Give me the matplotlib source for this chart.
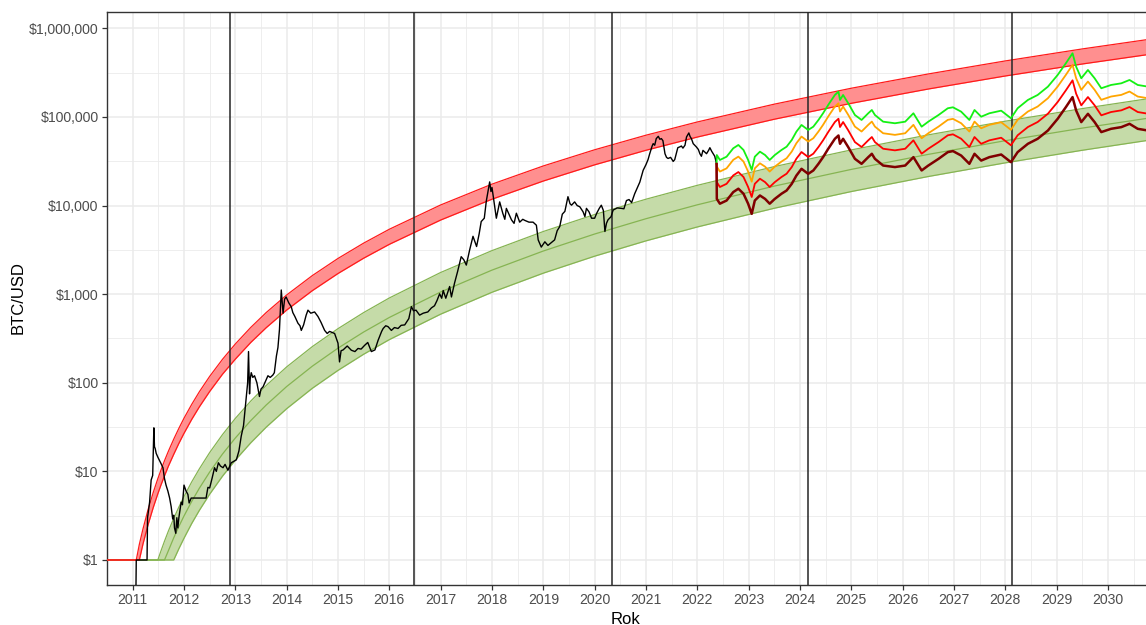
import matplotlib
matplotlib.use("Agg")
import matplotlib.pyplot as plt
from matplotlib.ticker import FixedLocator, FixedFormatter, NullFormatter

plt.rcParams["font.family"] = ["Liberation Sans", "DejaVu Sans"]

# ---- data ----
halving_years = [2012.89, 2016.49, 2020.33, 2024.16, 2028.13]

band_years = [2010.5, 2011.07, 2011.13, 2011.2, 2011.3, 2011.4, 2011.49, 2011.55, 2011.62,
              2011.7, 2011.8, 2011.9, 2012.0, 2012.15, 2012.3, 2012.5, 2012.75, 2013.0,
              2013.3, 2013.6, 2014.0, 2014.5, 2015.0, 2015.5, 2016.0, 2017.0, 2018.0,
              2019.0, 2020.0, 2021.0, 2022.0, 2023.5, 2025.0, 2026.5, 2028.0, 2029.5, 2031.0]
red_upper = [1, 1, 1.50, 2.23, 3.70, 5.77, 8.27, 10.3, 13.2, 17.1, 23.1, 30.6, 39.8, 57.0,
             79.3, 118, 184, 274, 421, 619, 979, 1621, 2530, 3769, 5404, 10160, 17450, 28000,
             42630, 62260, 87800, 139500, 211000, 305800, 429000, 586000, 781000]
red_lower = [1, 1, 1, 1.51, 2.50, 3.90, 5.59, 6.99, 8.91, 11.6, 15.6, 20.7, 26.9, 38.6, 53.6,
             79.8, 125, 185, 285, 418, 662, 1096, 1711, 2548, 3653, 6868, 11800, 18930, 28830,
             42090, 59350, 94300, 142600, 206800, 290100, 396200, 528000]
green_upper = [1, 1, 1, 1, 1, 1, 1, 1.26, 1.63, 2.15, 2.95, 3.96, 5.21, 7.60, 10.7, 16.3, 26.0,
               39.6, 62.1, 93.0, 151, 256, 408, 620, 906, 1757, 3102, 5096, 7925, 11800, 16920,
               27530, 42490, 62800, 89600, 124300, 168000]
green_mid = [1, 1, 1, 1, 1, 1, 1, 1, 1, 1.29, 1.78, 2.39, 3.14, 4.58, 6.47, 9.83, 15.7, 23.8,
             37.4, 56.0, 90.7, 154, 246, 374, 546, 1059, 1869, 3070, 4775, 7107, 10200, 16590,
             25600, 37830, 53980, 74860, 101200]
green_lower = [1, 1, 1, 1, 1, 1, 1, 1, 1, 1, 1, 1.34, 1.76, 2.58, 3.64, 5.53, 8.83, 13.4, 21.0,
               31.5, 51.0, 86.7, 138, 210, 307, 595, 1051, 1727, 2685, 3997, 5735, 9327, 14400,
               21280, 30350, 42100, 56930]

price_years = [2011.06, 2011.07, 2011.28, 2011.29, 2011.33, 2011.36, 2011.39, 2011.413, 2011.425,
               2011.44, 2011.458, 2011.49, 2011.52, 2011.56, 2011.59, 2011.62, 2011.65, 2011.686,
               2011.72, 2011.75, 2011.78, 2011.80, 2011.815, 2011.84, 2011.86, 2011.88, 2011.90,
               2011.945, 2011.97, 2012.00, 2012.04, 2012.076, 2012.10, 2012.14, 2012.17, 2012.43,
               2012.466, 2012.50, 2012.55, 2012.595, 2012.63, 2012.67, 2012.71, 2012.76, 2012.80,
               2012.856, 2012.92, 2013.02, 2013.07, 2013.115, 2013.16, 2013.21, 2013.24, 2013.257,
               2013.277, 2013.29, 2013.31, 2013.34, 2013.374, 2013.42, 2013.47, 2013.50, 2013.54,
               2013.59, 2013.635, 2013.68, 2013.73, 2013.76, 2013.80, 2013.83, 2013.86, 2013.895,
               2013.93, 2013.96, 2013.99, 2014.04, 2014.09, 2014.12, 2014.16, 2014.22, 2014.26,
               2014.285, 2014.33, 2014.38, 2014.415, 2014.47, 2014.544, 2014.61, 2014.67, 2014.74,
               2014.79, 2014.836, 2014.934, 2015.00, 2015.03, 2015.06, 2015.10, 2015.18, 2015.26,
               2015.33, 2015.39, 2015.45, 2015.52, 2015.58, 2015.65, 2015.72, 2015.78, 2015.85,
               2015.88, 2015.93, 2015.975, 2016.04, 2016.10, 2016.17, 2016.23, 2016.30, 2016.38,
               2016.43, 2016.47, 2016.52, 2016.59, 2016.66, 2016.75, 2016.82, 2016.88, 2016.93,
               2016.98, 2017.02, 2017.05, 2017.10, 2017.175, 2017.21, 2017.27, 2017.33, 2017.40,
               2017.45, 2017.50, 2017.565, 2017.63, 2017.70, 2017.75, 2017.79, 2017.85, 2017.89,
               2017.955, 2017.98, 2018.00, 2018.04, 2018.085, 2018.15, 2018.21, 2018.25, 2018.28,
               2018.33, 2018.38, 2018.43, 2018.475, 2018.54, 2018.60, 2018.64, 2018.72, 2018.80,
               2018.865, 2018.90, 2018.96, 2019.03, 2019.09, 2019.15, 2019.22, 2019.27, 2019.32,
               2019.37, 2019.42, 2019.48, 2019.52, 2019.55, 2019.61, 2019.66, 2019.71, 2019.775,
               2019.81, 2019.84, 2019.89, 2019.94, 2020.00, 2020.04, 2020.09, 2020.13, 2020.17,
               2020.20, 2020.23, 2020.26, 2020.32, 2020.36, 2020.44, 2020.52, 2020.57, 2020.62,
               2020.67, 2020.72, 2020.78, 2020.88, 2020.945, 2021.00, 2021.04, 2021.07, 2021.12,
               2021.14, 2021.17, 2021.20, 2021.24, 2021.27, 2021.30, 2021.33, 2021.37, 2021.40,
               2021.43, 2021.48, 2021.53, 2021.56, 2021.59, 2021.62, 2021.66, 2021.69, 2021.72,
               2021.76, 2021.79, 2021.835, 2021.86, 2021.885, 2021.92, 2021.98, 2022.02, 2022.05,
               2022.08, 2022.11, 2022.15, 2022.18, 2022.22, 2022.245, 2022.28, 2022.31, 2022.34,
               2022.375]
price_usd = [0.3, 1.0, 1.0, 3.0, 4.5, 8.0, 9.0, 31, 19,
             18, 16, 14.5, 13.4, 12, 11, 8.3, 7.0, 6.0,
             5.0, 4.0, 2.9, 3.2, 2.3, 2.0, 3.0, 2.3, 3.0,
             4.5, 4.2, 7.0, 6.0, 5.5, 4.4, 5.0, 5.0, 5.0,
             6.6, 6.5, 8.5, 11, 10, 12.5, 11.5, 11, 12,
             10.3, 12.5, 13.5, 17, 25, 33, 65, 100, 225,
             75, 110, 130, 115, 120, 100, 70, 85, 90,
             105, 120, 115, 122, 130, 200, 250, 400, 1115,
             610, 880, 930, 800, 720, 620, 560, 470, 440,
             390, 450, 580, 660, 610, 630, 560, 480, 390,
             360, 380, 360, 280, 172, 230, 235, 260, 233,
             225, 244, 240, 265, 285, 225, 235, 300, 380,
             410, 440, 430, 390, 420, 410, 445, 450, 530,
             723, 650, 660, 580, 610, 630, 700, 740, 850,
             1010, 900, 1100, 900, 1220, 930, 1330, 1800, 2650,
             2450, 2130, 3160, 4500, 3450, 4800, 6600, 7200, 11300,
             18500, 14400, 16000, 11000, 7200, 11000, 8200, 7000, 9300,
             8000, 6900, 6300, 8200, 6500, 7000, 6800, 6500, 6500,
             6000, 4100, 3400, 3900, 3550, 3800, 4100, 5200, 5800,
             8000, 8600, 12600, 10500, 10100, 11000, 10000, 9700, 8500,
             7500, 9300, 8500, 7200, 7200, 8200, 9300, 10100, 8800,
             5100, 6300, 6900, 7500, 8900, 9400, 9300, 9200, 11400,
             11700, 10800, 13600, 18400, 25000, 29000, 33000, 38000, 47000,
             50000, 48000, 57000, 60500, 56000, 57000, 54000, 38500, 35000,
             34000, 35000, 31500, 33000, 38500, 45000, 46000, 47000, 44500,
             48000, 59500, 66000, 60000, 57000, 50000, 46000, 43000, 38500,
             36000, 42000, 40000, 38500, 42000, 45000, 41000, 38500, 36000,
             29500]

proj_years = [2022.375, 2022.38, 2022.44, 2022.57, 2022.70, 2022.80, 2022.90, 2022.99, 2023.06,
              2023.12, 2023.22, 2023.32, 2023.41, 2023.51, 2023.64, 2023.74, 2023.84, 2023.93,
              2024.03, 2024.16, 2024.26, 2024.36, 2024.45, 2024.55, 2024.68, 2024.75, 2024.78,
              2024.84, 2024.94, 2025.07, 2025.20, 2025.33, 2025.40, 2025.46, 2025.62, 2025.85,
              2026.05, 2026.21, 2026.37, 2026.50, 2026.70, 2026.88, 2026.98, 2027.14, 2027.30,
              2027.40, 2027.53, 2027.69, 2027.92, 2028.11, 2028.24, 2028.44, 2028.63, 2028.83,
              2029.02, 2029.18, 2029.31, 2029.38, 2029.48, 2029.61, 2029.74, 2029.87, 2030.06,
              2030.26, 2030.42, 2030.58, 2030.78]
proj_green = [29500, 37200, 32700, 35600, 44300, 48300, 42400, 32700, 25200,
              35600, 40600, 37200, 32700, 37200, 42400, 46200, 55000, 68200,
              81200, 71300, 77700, 92500, 110100, 136600, 177100, 193000, 155600,
              177100, 142900, 105300, 92500, 110100, 119900, 105300, 88500, 84900,
              88500, 110100, 77700, 88500, 105300, 125400, 128600, 114800, 92500,
              119900, 100700, 110100, 117800, 96700, 125400, 155600, 177100, 219800,
              297900, 403600, 523600, 369600, 273400, 339000, 273400, 210900, 229700,
              239900, 261600, 229700, 219800]
proj_orange = [29500, 27500, 24200, 26300, 32800, 35700, 31400, 24200, 18600,
               26300, 30000, 27500, 24200, 27500, 31400, 34200, 40700, 50500,
               60100, 52800, 57500, 68500, 81500, 101100, 131100, 142800, 115100,
               131100, 105700, 77900, 68500, 81500, 88700, 77900, 65500, 62800,
               65500, 81500, 57500, 65500, 77900, 92800, 95200, 85000, 68500,
               88700, 74500, 81500, 87200, 71600, 92800, 115100, 131100, 162700,
               220400, 298700, 387500, 273500, 202300, 250900, 202300, 156100, 170000,
               177500, 193600, 170000, 162700]
proj_red = [29500, 18400, 16200, 17600, 21900, 23900, 21000, 16200, 12500,
            17600, 20100, 18400, 16200, 18400, 21000, 22900, 27200, 33800,
            40200, 35300, 38500, 45800, 54500, 67600, 87700, 95500, 77000,
            87700, 70700, 52100, 45800, 54500, 59400, 52100, 43800, 42000,
            43800, 54500, 38500, 43800, 52100, 62100, 63700, 56800, 45800,
            59400, 49800, 54500, 58300, 47900, 62100, 77000, 87700, 108800,
            147500, 199800, 259200, 183000, 135300, 167800, 135300, 104400, 113700,
            118800, 129500, 113700, 108800]
proj_darkred = [29500, 11900, 10500, 11400, 14200, 15500, 13600, 10500, 8060,
                11400, 13000, 11900, 10500, 11900, 13600, 14800, 17600, 21800,
                26000, 22800, 24900, 29600, 35200, 43700, 56700, 61800, 49800,
                56700, 45700, 33700, 29600, 35200, 38400, 33700, 28300, 27200,
                28300, 35200, 24900, 28300, 33700, 40100, 41200, 36700, 29600,
                38400, 32200, 35200, 37700, 30900, 40100, 49800, 56700, 70300,
                95300, 129200, 167600, 118300, 87500, 108500, 87500, 67500, 73500,
                76800, 83700, 73500, 70300]

year_ticks = list(range(2011, 2031))
usd_ticks = [1, 10, 100, 1000, 10000, 100000, 1000000]
usd_labels = ["$1", "$10", "$100", "$1,000", "$10,000", "$100,000", "$1,000,000"]

# ---- figure ----
fig = plt.figure(figsize=(11.46, 6.25), dpi=100)
ax = fig.add_axes([107 / 1146, 40 / 625, 1041 / 1146, 573 / 625])

# bands
ax.fill_between(band_years, green_lower, green_upper, color="#C5DBA8", lw=0, zorder=2)
for s in (green_upper, green_mid, green_lower):
    ax.plot(band_years, s, color="#86B452", lw=0.9, zorder=3)
ax.fill_between(band_years, red_lower, red_upper, color="#FF8F8F", lw=0, zorder=2)
for s in (red_upper, red_lower):
    ax.plot(band_years, s, color="#FF1A1A", lw=0.9, zorder=3)

# halvings
for h in halving_years:
    ax.axvline(h, color="#262626", lw=1.1, zorder=4)

# price + projections
ax.plot(price_years, price_usd, color="black", lw=1.0, zorder=5)
ax.plot(proj_years, proj_green, color="#14F014", lw=1.3, zorder=5)
ax.plot(proj_years, proj_orange, color="#FFA500", lw=1.3, zorder=5)
ax.plot(proj_years, proj_red, color="#FF0000", lw=1.3, zorder=5)
ax.plot(proj_years, proj_darkred, color="#800000", lw=1.8, zorder=5)

# axes
ax.set_yscale("log")
ax.set_xlim(2010.5, 2030.78)
ax.set_ylim(0.522, 1.53e6)

ax.yaxis.set_major_locator(FixedLocator(usd_ticks))
ax.yaxis.set_major_formatter(FixedFormatter(usd_labels))
ax.yaxis.set_minor_locator(FixedLocator([3.162 * t for t in usd_ticks]))
ax.yaxis.set_minor_formatter(NullFormatter())
ax.xaxis.set_major_locator(FixedLocator(year_ticks))
ax.xaxis.set_major_formatter(FixedFormatter([str(y) for y in year_ticks]))
ax.xaxis.set_minor_locator(FixedLocator([y + 0.5 for y in range(2010, 2031)]))

ax.grid(which="major", color="#EBEBEB", lw=1.1, zorder=0)
ax.grid(which="minor", color="#EBEBEB", lw=0.6, zorder=0)
ax.set_axisbelow(True)

ax.tick_params(which="major", length=3.5, width=0.9, color="#333333",
               labelsize=10.1, labelcolor="#4D4D4D", pad=2.5)
ax.tick_params(which="minor", length=0)
for sp in ax.spines.values():
    sp.set_color("#333333")
    sp.set_linewidth(1.0)
ax.spines["right"].set_visible(False)

fig.text(18 / 1146, 1 - 298 / 625, "BTC/USD", rotation=90, ha="center", va="center",
         fontsize=12, color="black")
fig.text(626 / 1146, 1 - 619 / 625, "Rok", ha="center", va="center", fontsize=12,
         color="black")

fig.savefig("out.png", dpi=100)
